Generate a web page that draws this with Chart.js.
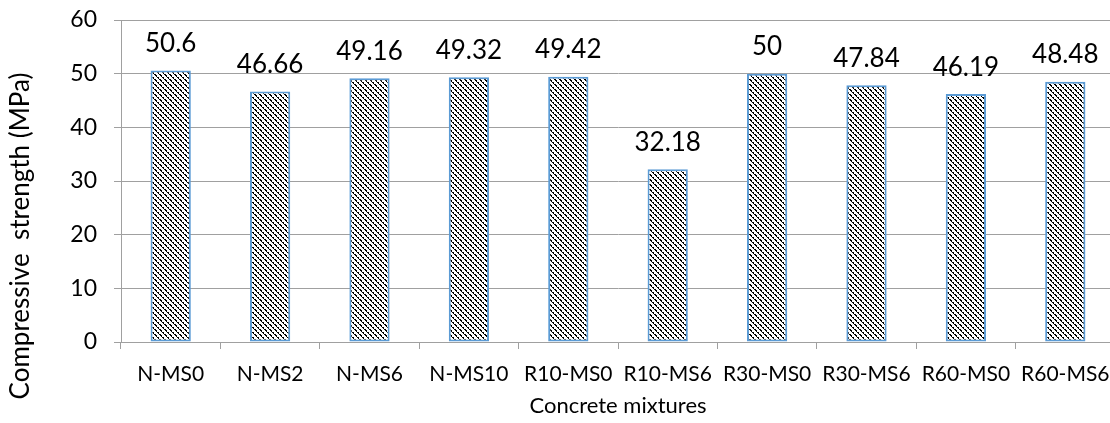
<!DOCTYPE html>
<html>
<head>
<meta charset="utf-8">
<style>
  html, body { margin: 0; padding: 0; background: #fff; overflow: hidden; }
  #wrap { width: 1118px; height: 423px; }
</style>
<script src="https://cdn.jsdelivr.net/npm/chart.js@4/dist/chart.umd.min.js"></script>
</head>
<body>
<div id="wrap"><canvas id="chart" width="1118" height="423"></canvas></div>
<script>
// Concrete mixtures and their compressive strength (MPa)
const mixtures = ['N-MS0', 'N-MS2', 'N-MS6', 'N-MS10', 'R10-MS0', 'R10-MS6', 'R30-MS0', 'R30-MS6', 'R60-MS0', 'R60-MS6'];
const strength = [50.6, 46.66, 49.16, 49.32, 49.42, 32.18, 50, 47.84, 46.19, 48.48];
const yTicks = [0, 10, 20, 30, 40, 50, 60];

const FONT = 'Lato, "Open Sans", sans-serif';

// Downward diagonal hatch fill with stepped, dotted edges
function hatchPattern() {
  const n = 5;
  const tile = document.createElement('canvas');
  tile.width = n; tile.height = n;
  const c = tile.getContext('2d');
  c.fillStyle = '#ffffff';
  c.fillRect(0, 0, n, n);
  c.fillStyle = '#000000';
  for (let k = 0; k < n; k++) {
    c.fillRect(k, k, 1, 1);
    if (k % 2 === 0) c.fillRect((k + 1) % n, k, 1, 1);
  }
  return c.createPattern(tile, 'repeat');
}

const ctx = document.getElementById('chart').getContext('2d');

// Values written above each bar
const valueLabels = {
  id: 'valueLabels',
  afterDatasetsDraw(chart) {
    const c = chart.ctx;
    const meta = chart.getDatasetMeta(0);
    c.save();
    c.font = '26px ' + FONT;
    c.fillStyle = '#000';
    c.textAlign = 'center';
    c.textBaseline = 'middle';
    meta.data.forEach((bar, i) => {
      c.fillText(String(strength[i]), bar.x, bar.y - 27);
    });
    c.restore();
  }
};

// Vertical axis title
const yTitle = {
  id: 'yTitle',
  afterDraw(chart) {
    const c = chart.ctx;
    c.save();
    c.font = '26px ' + FONT;
    c.fillStyle = '#000';
    c.textAlign = 'center';
    c.textBaseline = 'middle';
    c.translate(21, 236);
    c.rotate(-Math.PI / 2);
    c.fillText('Compressive  strength (MPa)', 0, 0);
    c.restore();
  }
};

new Chart(ctx, {
  type: 'bar',
  data: {
    labels: mixtures,
    datasets: [{
      data: strength,
      backgroundColor: hatchPattern(),
      borderColor: '#5B9BD5',
      borderWidth: 2,
      borderSkipped: false,
      categoryPercentage: 1,
      barPercentage: 0.405
    }]
  },
  options: {
    responsive: false,
    animation: false,
    devicePixelRatio: 1,
    layout: { autoPadding: false, padding: { top: 20, left: 0, right: 3, bottom: 0 } },
    plugins: { legend: { display: false }, tooltip: { enabled: false } },
    scales: {
      x: {
        grid: { display: true, drawOnChartArea: false, drawTicks: true, tickLength: 7, color: '#a0a0a0', offset: true },
        border: { display: true, color: '#a0a0a0', width: 1 },
        ticks: { color: '#000', font: { family: FONT, size: 21 }, padding: 13, maxRotation: 0, autoSkip: false },
        title: { display: true, text: 'Concrete mixtures', color: '#000', font: { family: FONT, size: 22 }, padding: { top: 3 } },
        afterFit(scale) { scale.height = 81; scale.paddingLeft = 0; scale.paddingRight = 0; }
      },
      y: {
        min: 0, max: 60,
        afterBuildTicks(scale) { scale.ticks = yTicks.map(v => ({ value: v })); },
        grid: { color: '#a0a0a0', lineWidth: 1, drawTicks: true, tickLength: 7 },
        border: { display: true, color: '#a0a0a0', width: 1 },
        ticks: { color: '#000', font: { family: FONT, size: 23 }, padding: 17 },
        afterFit(scale) { scale.width = 121; scale.paddingTop = 0; scale.paddingBottom = 0; }
      }
    }
  },
  plugins: [valueLabels, yTitle]
});
</script>
</body>
</html>
